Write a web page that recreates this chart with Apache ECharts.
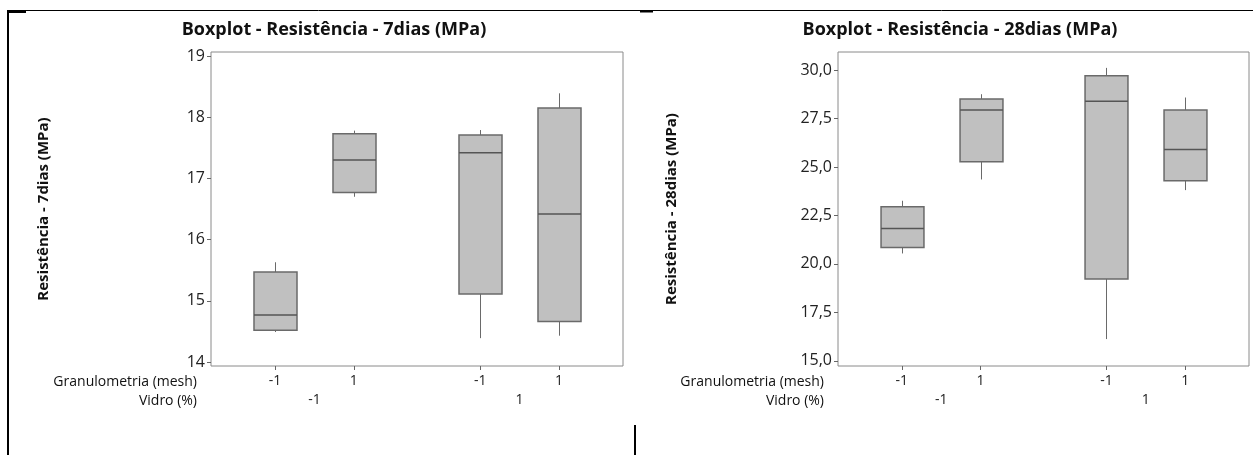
<!DOCTYPE html>
<html>
<head>
<meta charset="utf-8">
<script src="https://cdn.jsdelivr.net/npm/echarts@6/dist/echarts.min.js"></script>
<style>
html,body{margin:0;padding:0;background:#fff;}
#chart{width:1253px;height:455px;}
</style>
</head>
<body>
<div id="chart"></div>
<script>
// ---- Data ----
const titles = ['Boxplot - Resistência - 7dias (MPa)', 'Boxplot - Resistência - 28dias (MPa)'];
const yTitles = ['Resistência - 7dias (MPa)', 'Resistência - 28dias (MPa)'];
const factorNames = ['Granulometria (mesh)', 'Vidro (%)'];
const granulometriaLabels = ['-1', '1', '-1', '1'];
const vidroLabels = ['-1', '1'];
const yTicks7 = [14, 15, 16, 17, 18, 19];
const yTicks28 = [15, 17.5, 20, 22.5, 25, 27.5, 30];

// 7 dias: one entry per box (Vidro -1: Gran -1, 1 ; Vidro 1: Gran -1, 1)
const min7 = [14.49, 16.70, 14.39, 14.43];
const q1_7 = [14.52, 16.77, 15.11, 14.66];
const med7 = [14.77, 17.30, 17.42, 16.42];
const q3_7 = [15.47, 17.73, 17.71, 18.15];
const max7 = [15.63, 17.78, 17.79, 18.39];

// 28 dias
const min28 = [20.54, 24.36, 16.12, 23.81];
const q1_28 = [20.85, 25.27, 19.22, 24.29];
const med28 = [21.83, 27.95, 28.40, 25.91];
const q3_28 = [22.95, 28.52, 29.71, 27.95];
const max28 = [23.26, 28.76, 30.12, 28.59];

// ---- Layout helpers ----
const GROUP_GAP = 0.6;
function pos(i) { return 1 + i + (i >= 2 ? GROUP_GAP : 0); }
const xTickPos = granulometriaLabels.map((_, i) => pos(i));
const xGroupPos = [(pos(0) + pos(1)) / 2, (pos(2) + pos(3)) / 2];
const BOX_W = 0.545;
const FONT = '"Open Sans", "Noto Sans", sans-serif';

function buildData(mn, q1, md, q3, mx) {
  return mn.map((v, i) => [pos(i), mn[i], q1[i], md[i], q3[i], mx[i]]);
}

function renderBox(params, api) {
  const x = api.value(0);
  const lo = api.coord([x, api.value(1)]);
  const p1 = api.coord([x, api.value(2)]);
  const pm = api.coord([x, api.value(3)]);
  const p3 = api.coord([x, api.value(4)]);
  const hi = api.coord([x, api.value(5)]);
  const hw = api.size([BOX_W, 0])[0] / 2;
  const cx = Math.round(lo[0]) + 0.5;
  return {
    type: 'group',
    children: [
      {type: 'line', shape: {x1: cx, y1: lo[1], x2: cx, y2: p1[1]}, style: {stroke: '#6a6a6a', lineWidth: 1}},
      {type: 'line', shape: {x1: cx, y1: p3[1], x2: cx, y2: hi[1]}, style: {stroke: '#6a6a6a', lineWidth: 1}},
      {type: 'rect', shape: {x: cx - hw, y: p3[1], width: 2 * hw, height: p1[1] - p3[1]},
        style: {fill: '#c0c0c0', stroke: '#6a6a6a', lineWidth: 1.5}},
      {type: 'line', shape: {x1: cx - hw, y1: pm[1], x2: cx + hw, y2: pm[1]}, style: {stroke: '#555555', lineWidth: 1.5}}
    ]
  };
}

const grids = [
  {left: 211, top: 52, width: 412, height: 314},
  {left: 838, top: 52, width: 411, height: 314}
];
const yRanges = [[13.935, 19.065], [14.73, 30.94]];
const yTickSets = [yTicks7, yTicks28];
const yFormat = [v => String(v), v => v.toFixed(1).replace('.', ',')];

const option = {
  animation: false,
  backgroundColor: '#ffffff',
  grid: grids.map(g => Object.assign({show: true, borderColor: '#8a8a8a', borderWidth: 1, backgroundColor: '#fff'}, g)),
  xAxis: [],
  yAxis: [],
  series: [],
  graphic: []
};

[0, 1].forEach(k => {
  option.xAxis.push({
    type: 'value', gridIndex: k, min: 0.19, max: 5.41, position: 'bottom',
    axisLine: {show: false},
    splitLine: {show: false},
    axisTick: {show: true, inside: false, length: 4, lineStyle: {color: '#666'}, customValues: xTickPos},
    axisLabel: {show: true, margin: 8, color: '#222', fontSize: 14, fontFamily: FONT,
      customValues: xTickPos,
      formatter: v => granulometriaLabels[xTickPos.findIndex(p => Math.abs(p - v) < 1e-6)] || ''}
  });
  option.xAxis.push({
    type: 'value', gridIndex: k, min: 0.19, max: 5.41, position: 'bottom', offset: 0,
    axisLine: {show: false}, splitLine: {show: false}, axisTick: {show: false},
    axisLabel: {show: true, margin: 27, color: '#222', fontSize: 14, fontFamily: FONT,
      customValues: xGroupPos,
      formatter: v => vidroLabels[xGroupPos.findIndex(p => Math.abs(p - v) < 1e-6)] || ''}
  });
  option.yAxis.push({
    type: 'value', gridIndex: k, min: yRanges[k][0], max: yRanges[k][1],
    axisLine: {show: false}, splitLine: {show: false},
    axisTick: {show: true, inside: false, length: 4, lineStyle: {color: '#666'}, customValues: yTickSets[k]},
    axisLabel: {show: true, margin: 6, color: '#222', fontSize: 16, fontFamily: FONT,
      customValues: yTickSets[k], formatter: yFormat[k]}
  });
});

option.series.push({
  type: 'custom', xAxisIndex: 0, yAxisIndex: 0, renderItem: renderBox,
  data: buildData(min7, q1_7, med7, q3_7, max7), clip: false
});
option.series.push({
  type: 'custom', xAxisIndex: 2, yAxisIndex: 1, renderItem: renderBox,
  data: buildData(min28, q1_28, med28, q3_28, max28), clip: false
});

function txt(x, y, text, font, align, rot) {
  return {type: 'text', x: x, y: y, rotation: rot || 0,
    style: {text: text, font: font, fill: '#111', align: align, verticalAlign: 'middle',
      textAlign: align, textVerticalAlign: 'middle'}};
}
const titleX = [334, 960];
const yTitleX = [44, 672];
const factorRight = [197, 824];
[0, 1].forEach(k => {
  option.graphic.push(txt(titleX[k], 30, titles[k], 'bold 18px ' + FONT, 'center'));
  option.graphic.push(txt(yTitleX[k], 209, yTitles[k], 'bold 15px ' + FONT, 'center', Math.PI / 2));
  option.graphic.push(txt(factorRight[k], 382, factorNames[0], '14px ' + FONT, 'right'));
  option.graphic.push(txt(factorRight[k], 401, factorNames[1], '14px ' + FONT, 'right'));
});
// page / table borders
const borderLine = (x1, y1, x2, y2, w) => ({type: 'line', shape: {x1, y1, x2, y2}, style: {stroke: '#000', lineWidth: w}});
option.graphic.push(borderLine(7, 10.5, 1253, 10.5, 1));
option.graphic.push(borderLine(8, 10, 8, 455, 2));
option.graphic.push(borderLine(8, 12, 26, 12, 2));
option.graphic.push(borderLine(640, 11.5, 653, 11.5, 2));
option.graphic.push(borderLine(635, 425, 635, 455, 2));

const chart = echarts.init(document.getElementById('chart'), null, {renderer: 'canvas'});
chart.setOption(option);
</script>
</body>
</html>
